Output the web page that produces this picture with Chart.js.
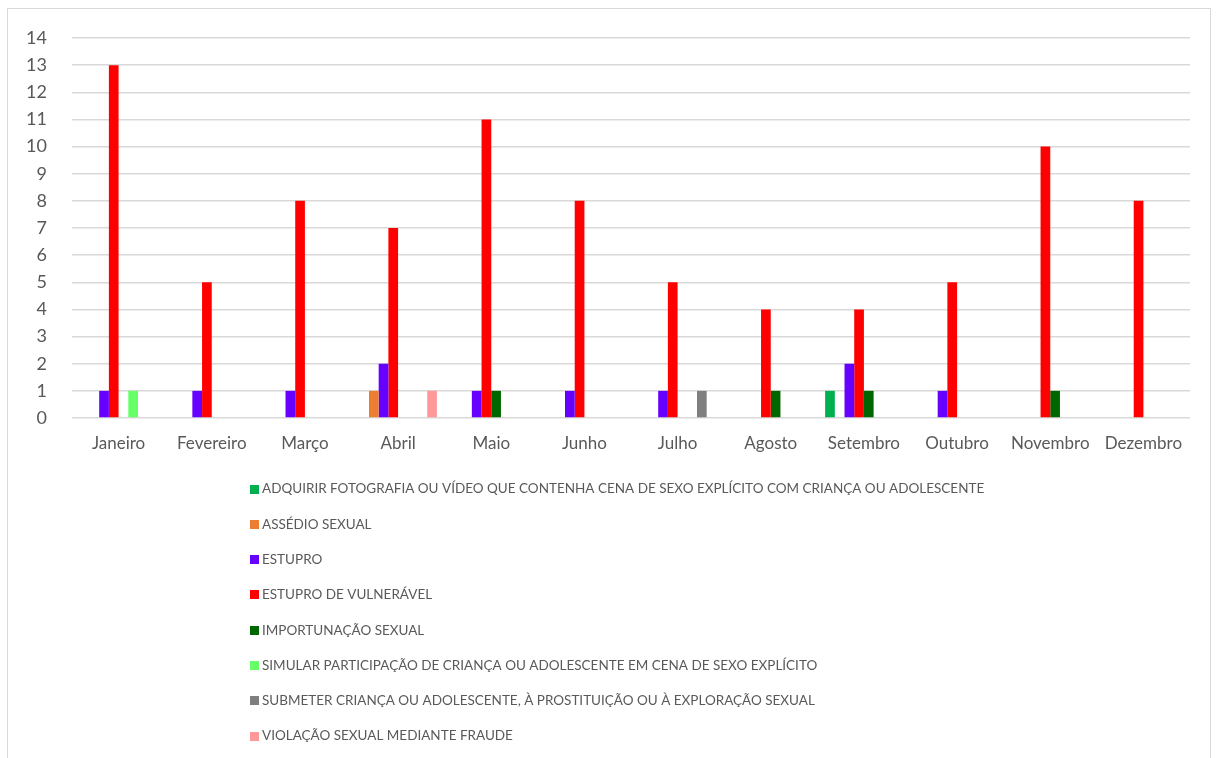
<!DOCTYPE html>
<html lang="pt">
<head>
<meta charset="utf-8">
<title>Ocorrências por mês</title>
<script src="https://cdn.jsdelivr.net/npm/chart.js@4.4.1/dist/chart.umd.min.js"></script>
<style>
  html, body { margin: 0; padding: 0; background: #ffffff; }
  #wrap { position: relative; width: 1218px; height: 758px; }
</style>
</head>
<body>
<div id="wrap"><canvas id="chart" width="1218" height="758"></canvas></div>
<script>
const months = ['Janeiro', 'Fevereiro', 'Março', 'Abril', 'Maio', 'Junho', 'Julho', 'Agosto', 'Setembro', 'Outubro', 'Novembro', 'Dezembro'];

const seriesNames = [
  'ADQUIRIR FOTOGRAFIA OU VÍDEO QUE CONTENHA CENA DE SEXO EXPLÍCITO COM CRIANÇA OU ADOLESCENTE',
  'ASSÉDIO SEXUAL',
  'ESTUPRO',
  'ESTUPRO DE VULNERÁVEL',
  'IMPORTUNAÇÃO SEXUAL',
  'SIMULAR PARTICIPAÇÃO DE CRIANÇA OU ADOLESCENTE EM CENA DE SEXO EXPLÍCITO',
  'SUBMETER CRIANÇA OU ADOLESCENTE, À PROSTITUIÇÃO OU À EXPLORAÇÃO SEXUAL',
  'VIOLAÇÃO SEXUAL MEDIANTE FRAUDE'
];

const adquirir     = [null, null, null, null, null, null, null, null, 1, null, null, null];
const assedio      = [null, null, null, 1, null, null, null, null, null, null, null, null];
const estupro      = [1, 1, 1, 2, 1, 1, 1, null, 2, 1, null, null];
const vulneravel   = [13, 5, 8, 7, 11, 8, 5, 4, 4, 5, 10, 8];
const importunacao = [null, null, null, null, 1, null, null, 1, 1, null, 1, null];
const simular      = [1, null, null, null, null, null, null, null, null, null, null, null];
const submeter     = [null, null, null, null, null, null, 1, null, null, null, null, null];
const violacao     = [null, null, null, 1, null, null, null, null, null, null, null, null];

const yTicks = [0, 1, 2, 3, 4, 5, 6, 7, 8, 9, 10, 11, 12, 13, 14];

const seriesValues = [adquirir, assedio, estupro, vulneravel, importunacao, simular, submeter, violacao];
const seriesColors = ['#00B050', '#ED7D31', '#6600FF', '#FF0000', '#006600', '#66FF66', '#7F7F7F', '#FF9999'];

const FONT = 'Lato, "Open Sans", sans-serif';
const TEXT = '#595959';
const GRID = '#d9d9d9';

// Vertical legend list plus the outer frame, drawn on the canvas
const listLegend = {
  id: 'listLegend',
  afterDraw(chart) {
    const ctx = chart.ctx;
    ctx.save();
    ctx.strokeStyle = GRID;
    ctx.lineWidth = 1;
    ctx.strokeRect(7.5, 8.5, 1203, 770);

    const x0 = 250, y0 = 489, step = 35.3, box = 9;
    ctx.font = '13.5px ' + FONT;
    ctx.textBaseline = 'middle';
    ctx.textAlign = 'left';
    chart.data.datasets.forEach((ds, i) => {
      const y = y0 + i * step;
      ctx.fillStyle = ds.backgroundColor;
      ctx.fillRect(x0, Math.round(y - box / 2), box, box);
      ctx.fillStyle = TEXT;
      ctx.fillText(ds.label, x0 + box + 3, y);
    });
    ctx.restore();
  }
};

new Chart(document.getElementById('chart'), {
  type: 'bar',
  data: {
    labels: months,
    datasets: seriesNames.map((name, i) => ({
      label: name,
      data: seriesValues[i],
      backgroundColor: seriesColors[i],
      borderWidth: 0,
      barPercentage: 1.0,
      categoryPercentage: 0.833
    }))
  },
  options: {
    responsive: false,
    animation: false,
    events: [],
    layout: { padding: { left: 0, right: 28, top: 38, bottom: 0 } },
    plugins: {
      legend: { display: false },
      tooltip: { enabled: false }
    },
    scales: {
      x: {
        grid: { display: false, drawTicks: false },
        border: { display: false },
        ticks: {
          color: TEXT,
          font: { family: FONT, size: 17 },
          padding: 15,
          maxRotation: 0,
          autoSkip: false
        },
        afterFit(scale) { scale.height = 340; }
      },
      y: {
        min: 0,
        max: 14,
        afterBuildTicks(scale) { scale.ticks = yTicks.map(v => ({ value: v })); },
        grid: { color: GRID, lineWidth: 1.5, drawTicks: false },
        border: { display: false },
        ticks: {
          color: TEXT,
          font: { family: FONT, size: 18 },
          padding: 25,
          stepSize: 1
        },
        afterFit(scale) { scale.width = 72; }
      }
    }
  },
  plugins: [listLegend]
});
</script>
</body>
</html>
